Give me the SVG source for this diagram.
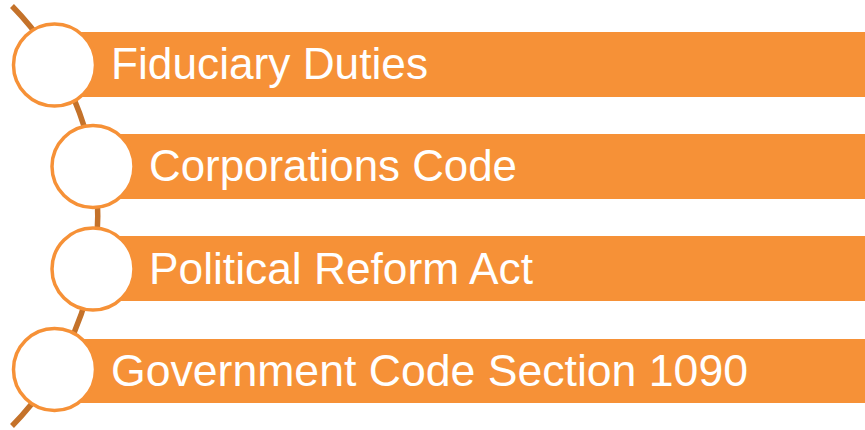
<svg xmlns="http://www.w3.org/2000/svg" width="865" height="430" viewBox="0 0 865 430">
  <style>
    .bar { fill: #F69137; }
    .dot { fill: #FFFFFF; stroke: #F69137; stroke-width: 3.5; }
    .label { fill: #FFFFFF; font-family: "Liberation Sans", Arial, sans-serif; font-size: 45px; }
    .spine { fill: none; stroke: #C4722A; stroke-width: 5.5; }
  </style>
  <rect width="865" height="430" fill="#FFFFFF"/>

  <!-- curved spine behind the circles -->
  <g id="connectors">
    <path class="spine" d="M 12 6 A 300 300 0 0 1 12 426"/>
  </g>

  <g id="item1">
    <rect class="bar" x="55" y="32" width="810" height="65"/>
    <circle class="dot" cx="54.5" cy="65" r="41"/>
    <text class="label" x="111" y="78.5" textLength="317" lengthAdjust="spacingAndGlyphs">Fiduciary Duties</text>
  </g>

  <g id="item2">
    <rect class="bar" x="93" y="134" width="772" height="65"/>
    <circle class="dot" cx="93" cy="166.5" r="41"/>
    <text class="label" x="149" y="181" textLength="368" lengthAdjust="spacingAndGlyphs">Corporations Code</text>
  </g>

  <g id="item3">
    <rect class="bar" x="93" y="236" width="772" height="65"/>
    <circle class="dot" cx="93" cy="269" r="41"/>
    <text class="label" x="149" y="283.5" textLength="384" lengthAdjust="spacingAndGlyphs">Political Reform Act</text>
  </g>

  <g id="item4">
    <rect class="bar" x="55" y="339" width="810" height="64"/>
    <circle class="dot" cx="54.5" cy="369.5" r="41"/>
    <text class="label" x="111" y="386" textLength="637" lengthAdjust="spacingAndGlyphs">Government Code Section 1090</text>
  </g>
</svg>
